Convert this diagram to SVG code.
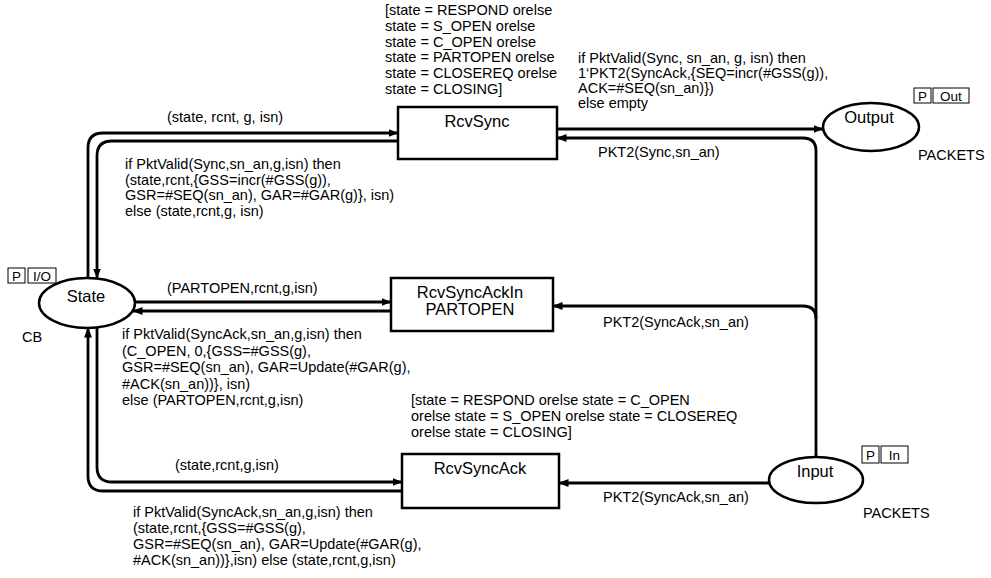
<svg xmlns="http://www.w3.org/2000/svg" width="991" height="578" viewBox="0 0 991 578">
<style>
text{font-family:"Liberation Sans",Arial,sans-serif;font-size:14.5px;fill:#000}
.c{text-anchor:middle}
.lbl{font-size:16.5px}
.tag{font-size:13.5px}
.node{fill:#fff;stroke:#000;stroke-width:2.5}
.tagbox{fill:#fff;stroke:#000;stroke-width:1}
.arc{fill:none;stroke:#000;stroke-width:2.8}
</style>
<defs>
<marker id="ah" markerWidth="10" markerHeight="8" refX="9.5" refY="4" orient="auto" markerUnits="userSpaceOnUse">
<path d="M0,0 L10,4 L0,8 Z" fill="#000"/>
</marker>
</defs>
<g id="connectors">
<path class="arc" d="M88,279 L88,148 Q88,133 103,133 L398,133" marker-end="url(#ah)"/>
<path class="arc" d="M398,141 L112,141 Q97,141 97,156 L97,278" marker-end="url(#ah)"/>
<path class="arc" d="M135,302 L391,302" marker-end="url(#ah)"/>
<path class="arc" d="M391,311 L133,311" marker-end="url(#ah)"/>
<path class="arc" d="M97,328 L97,467 Q97,482 112,482 L402,482" marker-end="url(#ah)"/>
<path class="arc" d="M402,491 L103,491 Q88,491 88,476 L88,328" marker-end="url(#ah)"/>
<path class="arc" d="M557,129 L823,129" marker-end="url(#ah)"/>
<path class="arc" d="M816,457 L816,151 Q816,138 803,138 L557,138" marker-end="url(#ah)"/>
<path class="arc" d="M816,319 Q816,306 803,306 L553,306" marker-end="url(#ah)"/>
<path class="arc" d="M769,483 L559,483" marker-end="url(#ah)"/>
<text x="167" y="122">(state, rcnt, g, isn)</text>
<text x="125" y="169">if PktValid(Sync,sn_an,g,isn) then</text>
<text x="125" y="185">(state,rcnt,{GSS=incr(#GSS(g)),</text>
<text x="125" y="200">GSR=#SEQ(sn_an), GAR=#GAR(g)}, isn)</text>
<text x="125" y="216">else (state,rcnt,g, isn)</text>
<text x="578" y="63">if PktValid(Sync, sn_an, g, isn) then</text>
<text x="578" y="78">1‘PKT2(SyncAck,{SEQ=incr(#GSS(g)),</text>
<text x="578" y="93">ACK=#SEQ(sn_an)})</text>
<text x="578" y="108">else empty</text>
<text x="598" y="157">PKT2(Sync,sn_an)</text>
<text x="167" y="293">(PARTOPEN,rcnt,g,isn)</text>
<text x="122" y="339">if PktValid(SyncAck,sn_an,g,isn) then</text>
<text x="122" y="355.5">(C_OPEN, 0,{GSS=#GSS(g),</text>
<text x="122" y="372">GSR=#SEQ(sn_an), GAR=Update(#GAR(g),</text>
<text x="122" y="388.5">#ACK(sn_an))}, isn)</text>
<text x="122" y="405">else (PARTOPEN,rcnt,g,isn)</text>
<text x="603" y="327">PKT2(SyncAck,sn_an)</text>
<text x="175" y="470">(state,rcnt,g,isn)</text>
<text x="133" y="517">if PktValid(SyncAck,sn_an,g,isn) then</text>
<text x="133" y="533">(state,rcnt,{GSS=#GSS(g),</text>
<text x="133" y="549">GSR=#SEQ(sn_an), GAR=Update(#GAR(g),</text>
<text x="133" y="565">#ACK(sn_an))},isn) else (state,rcnt,g,isn)</text>
<text x="603" y="502">PKT2(SyncAck,sn_an)</text>
</g>
<g id="RcvSync">
<rect class="node" x="398" y="107" width="159" height="52"/>
<text class="c lbl" x="477" y="127">RcvSync</text>
<text x="385" y="15">[state = RESPOND orelse</text>
<text x="385" y="30.8">state = S_OPEN orelse</text>
<text x="385" y="46.6">state = C_OPEN orelse</text>
<text x="385" y="62.4">state = PARTOPEN orelse</text>
<text x="385" y="78.2">state = CLOSEREQ orelse</text>
<text x="385" y="94">state = CLOSING]</text>
</g>
<g id="RcvSyncAckIn">
<rect class="node" x="391" y="278" width="162" height="53"/>
<text class="c lbl" x="470" y="298">RcvSyncAckIn</text>
<text class="c lbl" x="470" y="315">PARTOPEN</text>
</g>
<g id="RcvSyncAck">
<rect class="node" x="402" y="454" width="157" height="54"/>
<text class="c lbl" x="480" y="474">RcvSyncAck</text>
<text x="411" y="405">[state = RESPOND orelse state = C_OPEN</text>
<text x="411" y="421">orelse state = S_OPEN orelse state = CLOSEREQ</text>
<text x="411" y="437">orelse state = CLOSING]</text>
</g>
<g id="State">
<ellipse class="node" cx="87" cy="303" rx="48" ry="25"/>
<text class="c lbl" x="86" y="302">State</text>
<rect class="tagbox" x="8" y="268" width="17" height="15"/>
<rect class="tagbox" x="28" y="268" width="28" height="15"/>
<text class="tag c" x="16.5" y="280.5">P</text>
<text class="tag c" x="42" y="280.5">I/O</text>
<text x="22" y="342">CB</text>
</g>
<g id="Output">
<ellipse class="node" cx="871" cy="127" rx="48" ry="24"/>
<text class="c lbl" x="869" y="123">Output</text>
<rect class="tagbox" x="914" y="88" width="17" height="15"/>
<rect class="tagbox" x="933" y="88" width="36" height="15"/>
<text class="tag c" x="922.5" y="100.5">P</text>
<text class="tag c" x="951" y="100.5">Out</text>
<text x="918" y="160">PACKETS</text>
</g>
<g id="Input">
<ellipse class="node" cx="816" cy="480" rx="47" ry="23"/>
<text class="c lbl" x="815" y="477">Input</text>
<rect class="tagbox" x="862" y="446" width="17" height="17"/>
<rect class="tagbox" x="881" y="446" width="27" height="17"/>
<text class="tag c" x="870.5" y="459.5">P</text>
<text class="tag c" x="894.5" y="459.5">In</text>
<text x="863" y="518">PACKETS</text>
</g>
</svg>
